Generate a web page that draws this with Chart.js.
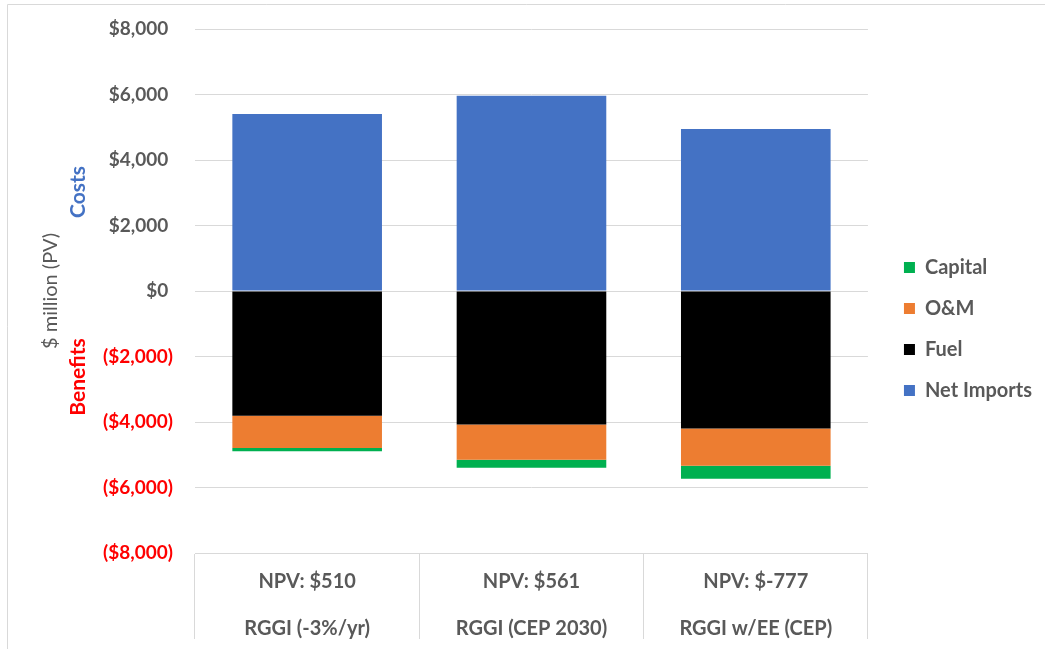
<!DOCTYPE html>
<html>
<head>
<meta charset="utf-8">
<script src="https://cdn.jsdelivr.net/npm/chart.js@4"></script>
<style>
  html, body { margin: 0; padding: 0; background: #fff; }
  #wrap { position: relative; width: 1045px; height: 649px; }
</style>
</head>
<body>
<div id="wrap"><canvas id="chart"></canvas></div>
<script>
// Costs (+) vs benefits (-) of RGGI scenarios, $ million present value
const SCENARIOS = ['RGGI (-3%/yr)', 'RGGI (CEP 2030)', 'RGGI w/EE (CEP)'];
const NPV_LABELS = ['NPV: $510', 'NPV: $561', 'NPV: $-777'];

const NET_IMPORTS = [5405, 5960, 4950];
const FUEL = [-3808, -4080, -4195];
const OM = [-987, -1070, -1140];
const CAPITAL = [-100, -250, -395];

const Y_MIN = -8000, Y_MAX = 8000, Y_STEP = 2000;

const GRAY = '#595959';
const RED = '#FF0000';
const GRID = '#d9d9d9';
const FONT = 'Lato, "Open Sans", sans-serif';

function money(v) {
  const s = '$' + Math.abs(v).toLocaleString('en-US');
  return v < 0 ? '(' + s + ')' : s + '\u2005';
}

// outer frame, rotated side labels, legend nudge
const sideText = {
  id: 'sideText',
  afterLayout(chart) {
    const lg = chart.legend;
    if (lg) {
      lg.left += 15; lg.right += 15;
      lg.top -= 10; lg.bottom -= 10;
    }
  },
  beforeDraw(chart) {
    const ctx = chart.ctx;
    ctx.save();
    ctx.strokeStyle = GRID;
    ctx.lineWidth = 1;
    ctx.beginPath();
    ctx.moveTo(7.5, 649);
    ctx.lineTo(7.5, 4.5);
    ctx.lineTo(1045, 4.5);
    ctx.stroke();
    ctx.restore();
  },
  afterDraw(chart) {
    const ctx = chart.ctx;
    const area = chart.chartArea;
    const mid = (area.top + area.bottom) / 2;
    const put = (text, x, y, color, weight, size) => {
      ctx.save();
      ctx.translate(x, y);
      ctx.rotate(-Math.PI / 2);
      ctx.fillStyle = color;
      ctx.font = weight + ' ' + size + 'px ' + FONT;
      ctx.textAlign = 'center';
      ctx.textBaseline = 'middle';
      ctx.fillText(text, 0, 0);
      ctx.restore();
    };
    put('$ million (PV)', 51, mid, GRAY, 'normal', 20);
    put('Costs', 78, mid - 99, '#4472C4', 'bold', 21);
    put('Benefits', 78, mid + 86, RED, 'bold', 21);
  }
};

new Chart(document.getElementById('chart'), {
  type: 'bar',
  data: {
    labels: SCENARIOS.map((s, i) => [NPV_LABELS[i], s]),
    datasets: [
      { label: 'Net Imports', data: NET_IMPORTS, backgroundColor: '#4472C4' },
      { label: 'Fuel', data: FUEL, backgroundColor: '#000000' },
      { label: 'O&M', data: OM, backgroundColor: '#ED7D31' },
      { label: 'Capital', data: CAPITAL, backgroundColor: '#00B050' }
    ]
  },
  options: {
    responsive: true,
    maintainAspectRatio: false,
    animation: false,
    categoryPercentage: 1.0,
    barPercentage: 0.667,
    layout: { padding: { top: 29, right: 18, bottom: 0, left: 0 } },
    plugins: {
      tooltip: { enabled: false },
      legend: {
        position: 'right',
        reverse: true,
        labels: {
          boxWidth: 11,
          boxHeight: 11,
          padding: 21,
          color: GRAY,
          font: { family: FONT, size: 20, weight: 'bold' }
        }
      }
    },
    scales: {
      x: {
        stacked: true,
        grid: { offset: true, drawOnChartArea: false, drawTicks: true, tickLength: 86, color: GRID },
        border: { display: true, color: GRID },
        ticks: {
          autoSkip: false,
          maxRotation: 0,
          padding: -81,
          color: GRAY,
          font: { family: FONT, size: 20, weight: 'bold', lineHeight: 2.35 }
        },
        afterFit(scale) { scale.height = 96; }
      },
      y: {
        stacked: true,
        min: Y_MIN,
        max: Y_MAX,
        grid: { color: GRID, drawTicks: true, tickLength: 18, tickColor: 'rgba(0,0,0,0)' },
        border: { display: false },
        ticks: {
          stepSize: Y_STEP,
          padding: 4,
          callback: v => money(v),
          color: ctx => ctx.tick && ctx.tick.value < 0 ? RED : GRAY,
          font: { family: FONT, size: 19, weight: 'bold' }
        },
        afterFit(scale) { scale.width = 195; }
      }
    }
  },
  plugins: [sideText]
});
</script>
</body>
</html>
